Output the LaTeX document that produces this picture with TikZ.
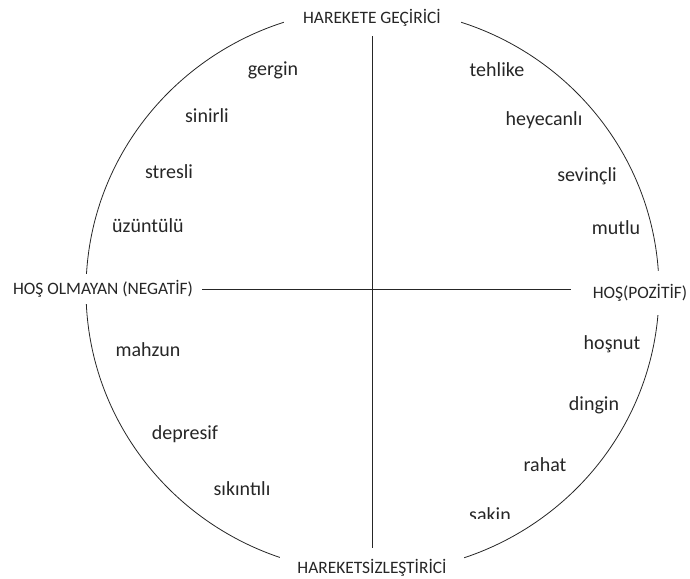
\documentclass[tikz,border=0pt]{standalone}
\usepackage{fontspec}
\setmainfont{Carlito}
\usetikzlibrary{positioning}

\begin{document}
\begin{tikzpicture}[x=1pt, y=-1pt,
    font=\fontsize{20}{22}\selectfont,
    base/.style={inner sep=0pt, text=black!85},
    axis/.style={base, fill=white, font=\fontsize{17.4}{19}\selectfont},
    feel/.style={base, anchor=base},
    norm/.style={draw, black!85, line width=0.8pt}]

\useasboundingbox (0,0) rectangle (690,578);

\draw [norm] (372.5,290.5) ellipse [x radius=286.5, y radius=282];

% axis labels (white boxes cut the circle)
\node [axis, minimum width=177, minimum height=36] (act) at (372,18) {HAREKETE GEÇİRİCİ};
\node [axis, minimum width=184, minimum height=40] (pas) at (372,568) {HAREKETSİZLEŞTİRİCİ};
\node [axis, minimum width=198, minimum height=30] (neg) at (103,289) {HOŞ OLMAYAN (NEGATİF)};
\node [axis, minimum width=137, minimum height=44] (pos) at (640,293) {HOŞ(POZİTİF)};

\draw [norm] (act.south) -- (pas.north);
\draw [norm] (neg.east) -- (neg.east -| pos.west);

% upper left
\node [feel] (gergin) at (273,75) {gergin};
\node [feel] (sinirli) at (207,122) {sinirli};
\node [feel] (stresli) at (169,178) {stresli};
\node [feel] (uzgun) at (148,232) {üzüntülü};
% upper right
\node [feel] (tehlike) at (497,76) {tehlike};
\node [feel] (heyecan) at (544,125) {heyecanlı};
\node [feel] (sevinc) at (587,181) {sevinçli};
\node [feel] (mutlu) at (616,234) {mutlu};
% lower left
\node [feel] (mahzun) at (148,356) {mahzun};
\node [feel] (depresif) at (185,439) {depresif};
\node [feel] (sikinti) at (242,495) {sıkıntılı};
% lower right
\node [feel] (hosnut) at (612,349) {hoşnut};
\node [feel] (dingin) at (594,410) {dingin};
\node [feel] (rahat) at (545,471) {rahat};
\begin{scope}
  \clip (440,490) rectangle (540,518);
  \node [feel] (sakin) at (490,521) {sakin};
\end{scope}

\end{tikzpicture}
\end{document}
